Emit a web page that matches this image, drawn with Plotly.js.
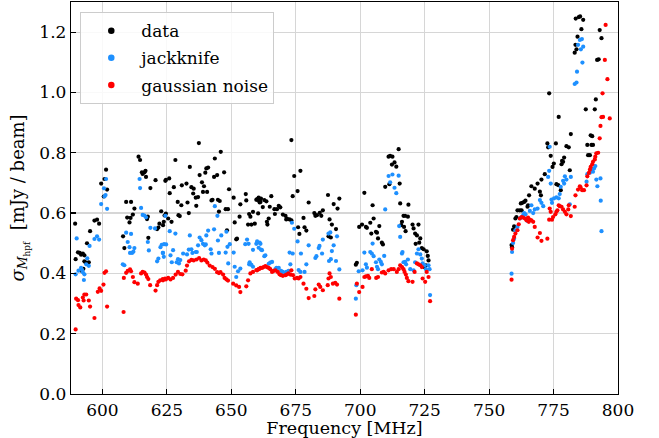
<!DOCTYPE html>
<html>
<head>
<meta charset="utf-8">
<script src="https://cdn.plot.ly/plotly-3.0.1.min.js"></script>
<style>html,body{margin:0;padding:0;background:#fff;}#chart{width:659px;height:438px;}</style>
</head>
<body>
<div id="chart"></div>
<script>
// ---- data series: "data" (black) ----
const dataFreq = [589.4,590.5,591.2,591.7,592.4,593.0,589.6,593.0,593.4,594.7,592.6,592.0,594.0,595.2,596.9,597.9,598.7,599.5,600.8,601.4,601.8,600.5,
608.0,608.5,609.2,611.1,609.6,610.5,610.9,611.8,612.4,614.0,614.6,615.6,615.3,616.3,616.9,616.7,618.6,620.6,624.4,617.8,617.6,617.3,621.2,621.7,622.8,624.1,622.1,
637.4,645.9,628.3,643.6,633.9,640.3,641.0,639.9,624.6,625.9,637.7,644.5,643.3,647.2,630.8,632.6,634.5,635.4,638.6,639.4,627.7,626.1,
639.0,640.6,636.2,637.1,635.2,642.3,642.7,644.8,645.5,649.1,650.9,653.5,655.6,655.8,659.7,660.7,661.0,629.2,630.6,633.0,636.4,629.5,630.0,633.5,
647.8,648.7,645.2,626.8,625.5,623.5,623.8,648.3,651.9,652.2,653.2,651.3,656.9,657.4,658.4,657.8,659.1,656.5,660.4,624.6,
673.3,676.8,674.4,675.7,673.8,660.0,660.6,661.5,662.2,662.8,663.6,665.5,664.9,666.7,667.7,668.4,669.0,666.9,670.0,671.0,671.6,672.6,673.3,663.8,664.5,664.0,671.3,661.3,
675.9,678.4,679.1,676.4,678.0,680.0,682.2,683.2,684.3,682.6,684.9,685.5,687.5,689.7,691.2,691.9,688.1,689.0,690.6,687.7,688.6,
698.3,698.7,699.6,700.7,702.2,702.6,703.9,704.3,705.2,706.1,706.9,707.4,708.4,708.8,706.5,701.6,704.8,
709.7,711.3,714.9,711.0,711.6,712.5,712.3,713.3,714.0,715.3,715.5,716.8,717.4,718.5,716.2,715.9,717.0,718.7,720.3,722.6,717.6,720.7,721.3,722.0,721.5,722.9,723.3,723.9,724.6,725.8,726.5,726.2,725.5,724.9,
758.7,758.9,759.3,759.7,760.2,760.6,761.0,761.9,762.6,762.3,762.9,763.6,764.1,764.9,765.1,765.5,766.4,767.7,768.8,769.7,770.1,770.3,771.6,
772.6,772.9,773.9,774.6,775.1,775.9,777.0,773.3,776.1,776.8,777.8,778.1,778.7,779.1,778.3,780.0,780.9,781.3,781.7,
783.2,783.9,784.3,783.5,784.8,785.3,785.8,786.5,783.6,787.5,788.1,788.4,789.1,789.7,790.0,789.4,790.3,791.0,791.4,791.9,792.5,792.9,793.6];
const dataVal = [0.565,0.470,0.468,0.462,0.466,0.460,0.447,0.440,0.437,0.437,0.415,0.408,0.500,0.540,0.575,0.578,0.565,0.698,0.713,0.744,0.678,0.655,
0.523,0.484,0.637,0.637,0.585,0.569,0.584,0.595,0.615,0.787,0.776,0.730,0.735,0.735,0.720,0.740,0.683,0.709,0.707,0.518,0.588,0.580,0.547,0.552,0.606,0.592,0.565,
0.832,0.803,0.776,0.781,0.753,0.748,0.751,0.734,0.710,0.715,0.726,0.726,0.720,0.735,0.692,0.698,0.686,0.681,0.702,0.689,0.686,0.666,
0.670,0.670,0.651,0.653,0.665,0.642,0.644,0.644,0.640,0.679,0.651,0.629,0.663,0.642,0.644,0.641,0.635,0.637,0.626,0.635,0.624,0.593,0.590,0.600,
0.613,0.613,0.605,0.571,0.582,0.560,0.571,0.543,0.513,0.515,0.588,0.569,0.597,0.588,0.604,0.562,0.565,0.562,0.599,0.598,
0.842,0.740,0.723,0.673,0.656,0.646,0.651,0.648,0.620,0.643,0.639,0.656,0.621,0.613,0.613,0.624,0.619,0.597,0.595,0.591,0.582,0.579,0.576,0.571,0.582,0.562,0.579,0.637,
0.553,0.553,0.542,0.531,0.584,0.635,0.600,0.593,0.601,0.591,0.591,0.609,0.660,0.630,0.615,0.648,0.579,0.562,0.547,0.523,0.519,
0.429,0.435,0.554,0.562,0.554,0.551,0.568,0.532,0.582,0.538,0.516,0.557,0.502,0.496,0.535,0.667,0.626,
0.687,0.696,0.812,0.787,0.790,0.787,0.761,0.768,0.754,0.698,0.632,0.591,0.591,0.588,0.571,0.560,0.554,0.628,0.562,0.562,0.540,0.549,0.532,0.526,0.498,0.502,0.516,0.484,0.480,0.473,0.443,0.458,0.427,0.421,
0.494,0.487,0.545,0.556,0.582,0.587,0.609,0.609,0.609,0.632,0.634,0.637,0.641,0.621,0.626,0.659,0.689,0.681,0.698,0.671,0.659,0.711,0.729,
0.831,0.818,0.790,0.753,0.764,0.831,0.919,0.997,0.696,0.693,0.676,0.762,0.770,0.784,0.773,0.822,0.818,0.742,0.862,
1.132,1.143,1.185,1.158,1.250,1.252,1.210,1.241,1.245,0.944,0.826,0.792,0.792,0.826,0.855,0.858,0.826,0.944,0.977,1.108,1.110,1.207,1.180];

// ---- "jackknife" (blue) ----
const jackFreq = [590.0,589.6,590.7,592.1,592.4,593.0,592.8,591.7,593.7,594.1,594.7,595.0,596.9,597.9,598.7,599.5,600.8,601.2,601.8,601.4,600.6,
607.9,608.5,609.2,609.8,610.5,611.1,611.5,610.7,612.4,612.0,614.4,614.6,615.0,615.6,616.3,616.9,617.6,618.0,618.6,621.2,621.7,623.4,623.8,622.5,623.0,624.7,620.4,
643.6,644.6,624.4,626.1,628.3,633.9,637.7,638.4,639.0,640.1,641.0,640.3,643.3,644.8,646.1,648.1,648.5,649.4,650.9,651.3,651.9,652.6,653.5,656.1,656.7,655.4,658.4,659.7,661.0,
623.9,626.4,627.4,629.3,630.2,629.7,631.3,632.8,633.5,634.5,634.9,636.2,637.1,636.6,639.7,642.0,642.3,645.2,647.8,648.8,656.9,657.8,658.4,657.1,623.5,626.9,628.8,
660.0,661.3,660.6,661.5,661.9,662.8,663.2,664.5,665.1,665.8,667.1,667.5,668.4,669.3,670.0,671.0,671.3,672.2,672.6,673.8,672.9,673.5,674.4,675.7,677.0,676.1,676.8,678.4,679.1,680.0,
682.6,683.0,683.9,684.2,685.2,685.5,687.7,688.4,689.0,687.9,688.6,690.6,689.7,691.0,691.9,
698.5,698.3,699.4,700.9,701.6,702.2,702.6,703.9,704.5,705.2,704.8,706.1,706.5,707.4,708.0,708.4,709.3,706.9,
709.7,711.0,712.5,711.6,713.3,714.9,714.0,715.5,715.1,716.2,716.4,716.8,717.4,717.8,718.5,719.4,720.7,721.3,722.0,722.6,723.3,723.9,724.2,725.0,725.5,726.9,726.5,727.1,
758.7,758.9,759.3,759.7,760.2,761.0,761.9,762.3,763.2,763.6,764.1,764.9,765.8,766.4,767.1,767.7,768.8,769.7,770.3,771.0,772.9,773.3,773.9,774.2,774.4,775.2,776.1,777.0,777.4,777.8,778.7,779.1,779.4,780.0,781.3,781.7,773.5,
783.2,783.9,784.1,784.5,785.2,785.6,786.2,786.5,786.0,
787.8,788.1,789.1,789.4,790.0,790.3,790.7,791.2,791.6,792.0,793.2,793.3,793.6];
const jackVal = [0.516,0.397,0.409,0.412,0.404,0.397,0.378,0.418,0.430,0.450,0.425,0.491,0.514,0.523,0.512,0.630,0.655,0.660,0.614,0.713,0.682,
0.430,0.427,0.535,0.504,0.487,0.531,0.468,0.468,0.484,0.472,0.713,0.683,0.617,0.594,0.592,0.586,0.504,0.476,0.551,0.440,0.449,0.468,0.455,0.487,0.495,0.496,0.549,
0.623,0.591,0.591,0.540,0.532,0.526,0.519,0.510,0.498,0.496,0.542,0.526,0.546,0.509,0.526,0.538,0.488,0.497,0.469,0.422,0.388,0.407,0.416,0.512,0.498,0.497,0.478,0.498,0.502,
0.497,0.460,0.477,0.447,0.444,0.433,0.466,0.463,0.479,0.480,0.468,0.471,0.493,0.471,0.493,0.480,0.466,0.468,0.469,0.433,0.430,0.428,0.422,0.437,0.468,0.437,0.437,
0.506,0.498,0.485,0.479,0.477,0.457,0.460,0.432,0.436,0.438,0.414,0.418,0.418,0.408,0.405,0.399,0.405,0.408,0.469,0.466,0.430,0.568,0.548,0.506,0.466,0.411,0.405,0.405,0.430,0.493,
0.451,0.457,0.484,0.491,0.466,0.512,0.532,0.536,0.474,0.441,0.447,0.441,0.493,0.523,0.413,
0.361,0.316,0.407,0.410,0.469,0.430,0.419,0.471,0.466,0.457,0.499,0.437,0.422,0.446,0.438,0.430,0.458,0.414,
0.612,0.723,0.728,0.702,0.684,0.724,0.666,0.521,0.557,0.466,0.471,0.437,0.438,0.430,0.446,0.414,0.410,0.437,0.466,0.480,0.463,0.449,0.433,0.427,0.414,0.414,0.427,0.328,
0.399,0.471,0.501,0.515,0.543,0.554,0.582,0.585,0.593,0.600,0.596,0.574,0.607,0.626,0.600,0.612,0.615,0.643,0.634,0.623,0.720,0.740,0.698,0.645,0.634,0.649,0.652,0.649,0.663,0.687,0.707,0.698,0.722,0.711,0.629,0.720,0.820,
1.028,1.033,1.069,1.158,1.174,1.143,1.099,1.152,1.177,
0.704,0.729,0.734,0.740,0.745,0.737,0.748,0.756,0.711,0.689,0.715,0.641,0.540];

// ---- "gaussian noise" (red) ----
const noiseFreq = [589.6,589.8,590.5,590.7,591.4,592.4,593.0,593.7,592.7,594.7,595.2,596.9,598.2,598.9,599.5,600.4,600.8,601.4,601.8,
608.2,608.3,609.2,609.8,610.7,611.1,611.8,612.4,613.7,615.0,615.6,616.3,616.9,617.3,617.8,618.5,620.6,621.2,621.7,622.4,623.4,624.3,
623.5,624.6,625.5,626.4,627.4,628.4,629.3,630.2,631.0,632.3,632.8,633.6,634.5,635.4,636.5,637.5,638.4,639.3,640.1,640.7,641.6,642.7,643.6,644.5,645.2,645.8,646.8,647.4,648.1,648.7,650.7,651.9,653.0,653.5,655.8,656.5,657.4,658.4,659.7,660.7,
660.0,660.6,661.3,661.9,662.5,663.2,663.8,664.5,665.1,665.8,666.4,667.1,668.0,668.7,669.3,670.0,671.0,671.6,672.2,672.9,673.3,673.9,674.6,675.5,676.1,676.8,
678.0,679.1,680.0,682.2,682.6,683.9,684.5,685.5,687.4,687.7,688.1,688.6,689.4,690.3,691.0,691.9,
698.3,698.7,699.6,700.9,701.6,702.2,703.0,704.5,703.5,706.2,706.9,708.4,709.1,709.7,711.0,712.0,713.0,714.2,714.9,715.5,716.2,716.8,717.2,717.7,718.1,718.7,720.3,721.1,722.0,722.6,723.3,723.9,724.2,725.2,725.8,726.5,727.1,
758.7,758.9,759.3,759.7,760.2,761.0,761.5,761.9,762.6,763.2,763.9,764.5,765.1,765.4,765.8,766.4,767.1,767.7,768.8,769.7,770.3,772.6,773.3,773.5,773.9,774.4,774.8,775.7,776.1,776.5,777.0,777.4,778.1,778.7,779.4,780.0,780.7,780.9,781.7,
783.2,783.5,784.5,785.2,785.5,786.1,786.8,787.8,788.1,788.7,789.1,789.4,790.0,790.3,791.0,791.2,791.6,792.3,792.9,793.2,793.6,794.0,794.2,794.9,795.2,795.9,796.8];
const noiseVal = [0.214,0.316,0.311,0.295,0.287,0.320,0.330,0.330,0.310,0.310,0.290,0.252,0.339,0.350,0.342,0.363,0.402,0.407,0.290,
0.272,0.385,0.402,0.408,0.413,0.407,0.388,0.371,0.366,0.400,0.405,0.403,0.396,0.388,0.381,0.361,0.343,0.361,0.372,0.377,0.381,0.383,
0.377,0.380,0.385,0.380,0.385,0.396,0.405,0.398,0.397,0.409,0.426,0.440,0.445,0.443,0.446,0.451,0.443,0.446,0.443,0.436,0.426,0.421,0.415,0.404,0.401,0.404,0.396,0.385,0.380,0.376,0.366,0.360,0.355,0.338,0.357,0.377,0.400,0.405,0.411,0.414,
0.410,0.414,0.418,0.418,0.421,0.424,0.421,0.418,0.414,0.405,0.408,0.410,0.405,0.397,0.394,0.392,0.394,0.397,0.400,0.396,0.410,0.394,0.383,0.385,0.383,0.388,
0.366,0.349,0.318,0.325,0.347,0.363,0.355,0.344,0.361,0.383,0.400,0.388,0.366,0.369,0.363,0.316,
0.263,0.366,0.338,0.355,0.388,0.390,0.392,0.414,0.385,0.385,0.388,0.403,0.405,0.400,0.410,0.414,0.414,0.405,0.414,0.427,0.421,0.414,0.405,0.396,0.385,0.374,0.372,0.405,0.433,0.430,0.427,0.421,0.383,0.372,0.405,0.388,0.308,
0.379,0.482,0.510,0.521,0.532,0.543,0.563,0.582,0.587,0.585,0.582,0.576,0.585,0.571,0.578,0.576,0.571,0.554,0.519,0.534,0.508,0.515,0.578,0.615,0.604,0.578,0.587,0.596,0.604,0.609,0.626,0.623,0.621,0.612,0.604,0.596,0.612,0.626,0.590,
0.621,0.659,0.678,0.689,0.685,0.676,0.676,0.692,0.722,0.733,0.744,0.753,0.762,0.770,0.778,0.787,0.798,0.800,0.848,0.889,0.918,0.997,0.919,1.108,1.224,1.044,0.914];

const seriesNames = ["data", "jackknife", "gaussian noise"];
const seriesColors = ["#000000", "#1e90ff", "#ff0000"];
const xTicks = [600, 625, 650, 675, 700, 725, 750, 775, 800];
const yTicks = [0.0, 0.2, 0.4, 0.6, 0.8, 1.0, 1.2];

const FONT = "DejaVu Serif, Liberation Serif, serif";
const xs = [dataFreq, jackFreq, noiseFreq];
const ys = [dataVal, jackVal, noiseVal];

const traces = [];
for (let i = 0; i < 3; i++) {
  traces.push({
    type: "scatter", mode: "markers", x: xs[i], y: ys[i],
    name: seriesNames[i], showlegend: false, legendgroup: "g" + i,
    marker: {color: seriesColors[i], size: 4.2}, hoverinfo: "skip"
  });
}
for (let i = 0; i < 3; i++) {
  traces.push({
    type: "scatter", mode: "markers", x: [null], y: [null],
    name: seriesNames[i], showlegend: true, legendgroup: "g" + i,
    marker: {color: seriesColors[i], size: 6.5}
  });
}

const axisCommon = {
  showline: true, mirror: true, linecolor: "#000", linewidth: 1.2,
  ticks: "inside", ticklen: 5, tickwidth: 1.2, tickcolor: "#000",
  showgrid: true, gridcolor: "#d6d6d6", gridwidth: 1.2, zeroline: false,
  tickfont: {family: FONT, size: 17, color: "#000"}
};

const layout = {
  width: 659, height: 438,
  margin: {l: 71, r: 41, t: 2, b: 44},
  paper_bgcolor: "#fff", plot_bgcolor: "#fff",
  showlegend: true,
  xaxis: Object.assign({}, axisCommon, {
    range: [587.8, 800], tickvals: xTicks, ticktext: xTicks.map(String),
    ticklabelstandoff: 0, automargin: false,
    title: {text: "Frequency [MHz]", font: {family: FONT, size: 17.5, color: "#000"}, standoff: 2}
  }),
  yaxis: Object.assign({}, axisCommon, {
    range: [0, 1.3], tickvals: yTicks, ticktext: yTicks.map(v => v.toFixed(1)),
    title: {text: "<i>σ</i><sub><i>M</i><sub>hpf</sub></sub>  [mJy / beam]", font: {family: FONT, size: 18, color: "#000"}, standoff: 10}
  }),
  legend: {
    x: 0.017, y: 0.974, xanchor: "left", yanchor: "top",
    bgcolor: "rgba(255,255,255,0.85)", bordercolor: "#cccccc", borderwidth: 1,
    font: {family: FONT, size: 17, color: "#000"},
    itemwidth: 50, tracegroupgap: 2, traceorder: "grouped"
  }
};

Plotly.newPlot("chart", traces, layout, {staticPlot: true, displayModeBar: false});
</script>
</body>
</html>
